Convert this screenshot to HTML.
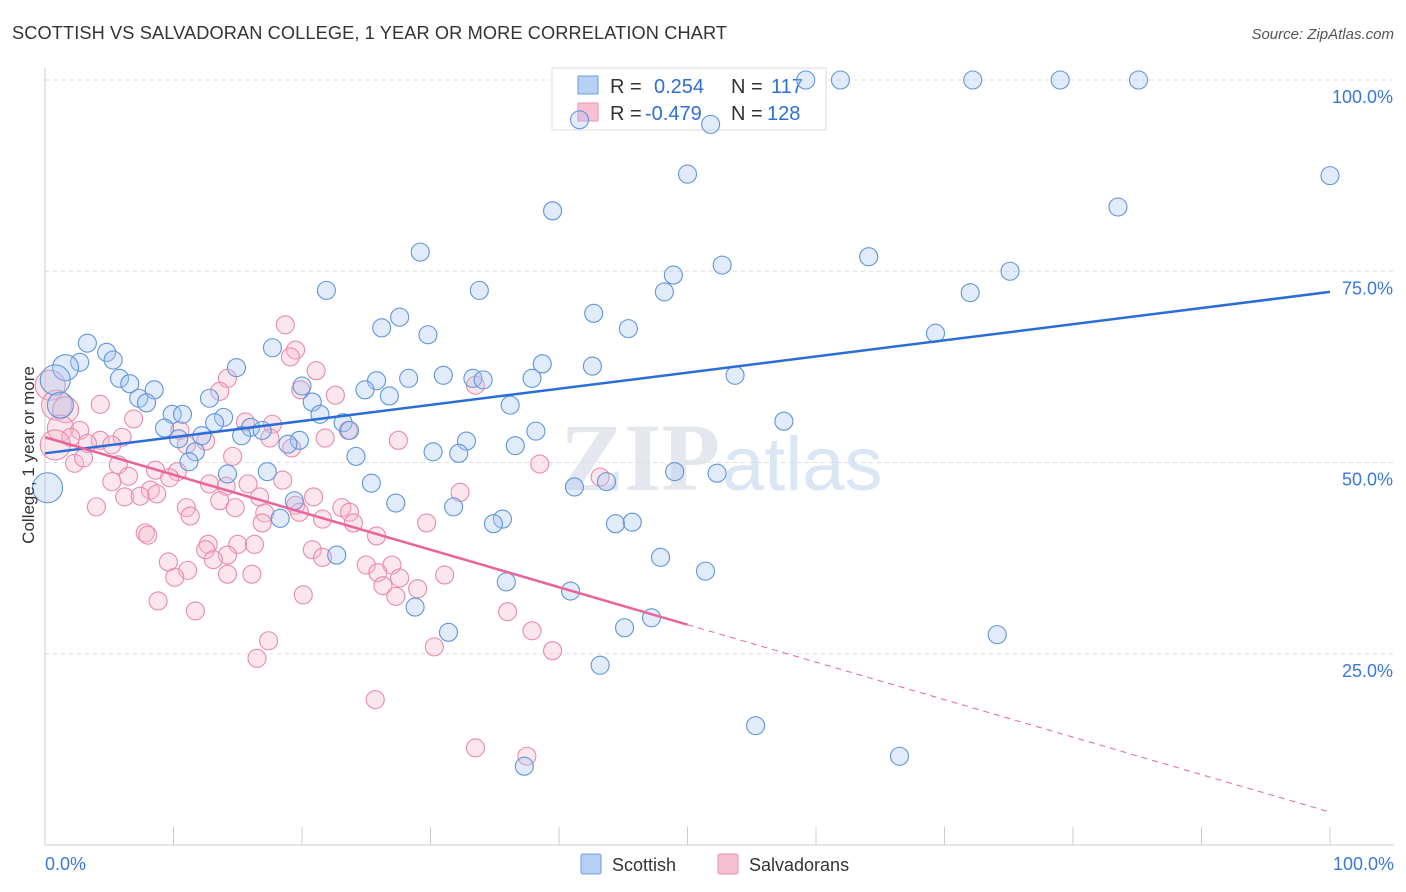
<!DOCTYPE html>
<html><head><meta charset="utf-8"><style>
body{margin:0;background:#fff;font-family:"Liberation Sans",sans-serif;}
#wrap{position:relative;width:1406px;height:892px;overflow:hidden}
</style></head><body>
<div id="wrap">
<svg id="svg" width="1406" height="892" xmlns="http://www.w3.org/2000/svg">
<text x="12" y="39" font-size="18.2" fill="#333" textLength="715">SCOTTISH VS SALVADORAN COLLEGE, 1 YEAR OR MORE CORRELATION CHART</text>
<text x="1394" y="39" font-size="15" fill="#555" font-style="italic" text-anchor="end">Source: ZipAtlas.com</text>
<text x="720" y="490" font-size="96" fill="#e4e8ee" text-anchor="end" font-weight="bold" font-family="Liberation Serif,serif">ZIP</text>
<text x="722" y="490" font-size="76" fill="#dbe6f4">atlas</text>
<g id="grid"></g>
<g>
<rect x="552" y="68" width="274" height="62" fill="#fff" stroke="#ddd"/>
<rect x="578" y="76" width="20" height="18" fill="#b8d0f4" stroke="#6a9ee0"/>
<rect x="578" y="103" width="20" height="18" fill="#f8c0d2" stroke="#ec8fb0"/>
<text x="610" y="93" font-size="20" fill="#333">R = <tspan x="654" fill="#2f6fd0">0.254</tspan><tspan x="731">N = </tspan><tspan x="771" fill="#2f6fd0">117</tspan></text>
<text x="610" y="120" font-size="20" fill="#333">R = <tspan x="645" fill="#2f6fd0">-0.479</tspan><tspan x="731">N = </tspan><tspan x="767" fill="#2f6fd0">128</tspan></text>
</g>
<g id="pts"></g><g id="lines"></g>
<text transform="translate(34,455) rotate(-90)" font-size="17" fill="#333" text-anchor="middle">College, 1 year or more</text>
<g>
<rect x="581" y="854" width="20" height="20" fill="#b8d0f4" stroke="#6a9ee0" rx="2"/>
<text x="612" y="871" font-size="18" fill="#333">Scottish</text>
<rect x="718" y="854" width="20" height="20" fill="#f8c0d2" stroke="#ec8fb0" rx="2"/>
<text x="749" y="871" font-size="18" fill="#333">Salvadorans</text>
</g>
</svg></div>
<script>
const yTicks=[25,50,75,100];
const xTickLabels=["0.0%","100.0%"];
const blueX=[59.2,61.9,72.2,79,85.1,51.8,41.6,100,50,83.5,39.5,29.2,64.1,52.7,48.9,75.1,48.2,72,21.9,33.8,42.7,27.6,26.2,45.4,29.8,69.3,17.7,3.3,2.7,4.8,5.3,1.6,14.9,38.7,42.6,53.7,31,33.3,34.1,37.9,28.3,25.8,5.8,6.6,0.8,20,8.5,24.9,26.8,7.3,12.8,7.9,20.8,36.2,1.2,9.9,10.7,21.4,13.9,13.2,23.2,57.5,9.3,16,16.9,23.7,38.2,15.3,10.4,12.2,19.8,18.9,32.8,36.6,30.2,32.2,24.2,11.7,11.2,49,52.3,14.2,17.3,43.7,41.2,0.2,25.4,19.4,27.3,31.8,18.3,35.6,34.9,44.4,45.7,22.7,47.9,51.4,35.9,40.9,28.8,47.2,45.1,31.4,74.1,43.2,55.3,66.5,37.3];
const blueY=[100,100,100,100,100,94.2,94.8,87.5,87.7,83.4,82.9,77.5,76.9,75.8,74.5,75,72.3,72.2,72.5,72.5,69.5,69,67.6,67.5,66.7,66.9,65,65.6,63.1,64.4,63.4,62.4,62.4,62.9,62.6,61.4,61.4,61,60.8,61,61,60.7,61,60.3,60.8,60,59.5,59.5,58.7,58.4,58.4,57.8,57.9,57.5,57.5,56.3,56.3,56.3,55.9,55.2,55.2,55.4,54.5,54.6,54.2,54.2,54.1,53.5,53.1,53.5,52.9,52.4,52.8,52.2,51.4,51.2,50.8,51.4,50.1,48.8,48.6,48.5,48.8,47.5,46.8,46.7,47.3,45,44.7,44.2,42.7,42.6,42,42,42.2,37.9,37.6,35.8,34.4,33.2,31.1,29.7,28.4,27.8,27.5,23.5,15.6,11.6,10.3];
const pinkX=[18.7,19.5,19.1,21.1,14.2,0.4,19.9,22.6,13.6,4.3,0.9,1.6,6.9,15.6,17.7,1.2,2.7,23.6,10.5,2,6,4.3,3.3,5.2,27.5,21.8,17.5,12.5,11,19.2,14.6,2.3,3,5.7,38.5,8.6,10.3,9.7,43.2,6.5,5.2,15.8,12.8,18.5,14.1,8.2,32.3,6.2,7.4,8.7,16.7,20.9,13.6,19.5,4,11,14.8,23.1,23.7,17.1,19.8,11.3,21.6,29.7,16.9,24,25.8,7.8,8,12.7,15,16.3,12.5,20.8,21.6,14.2,13.1,9.6,25,27,25.9,11.1,10.1,14.2,16.1,31.1,27.6,26.3,29,27.3,20.1,8.8,11.7,36,37.9,17.4,30.3,39.5,16.5,25.7,33.5,37.5,33.5,0.8];
const pinkY=[68,64.7,63.8,62,61,60.1,59.5,58.8,59.3,57.6,57.5,56.9,55.7,55.3,55,54.5,54.2,54.2,54.2,53.3,53.3,52.9,52.5,52.3,52.9,53.2,53.2,52.8,52.3,51.9,50.8,49.9,50.6,49.7,49.8,49,48.8,48,48.1,48.2,47.5,47.2,47.2,47.7,46.9,46.4,46.1,45.5,45.6,45.9,45.5,45.5,45,44.4,44.2,44.1,44.1,44.1,43.5,43.4,43.5,43,42.6,42.1,42.1,42.1,40.4,40.8,40.5,39.3,39.3,39.3,38.6,38.6,37.6,37.9,37.3,37,36.6,36.6,35.6,35.9,35,35.4,35.4,35.3,34.9,33.9,33.5,32.5,32.7,31.9,30.6,30.5,28,26.7,25.9,25.4,24.4,19,12.7,11.6,60.1,52.3];
const blueTrend=[51.2,72.3];
const pinkTrend=[53.3,4.3];
const pinkSolidEnd=50;
const X=v=>45+v*12.85, Y=v=>845-v*7.65;
const NS="http://www.w3.org/2000/svg";
function mk(tag,attrs,parent){const e=document.createElementNS(NS,tag);for(const k in attrs)e.setAttribute(k,attrs[k]);document.getElementById(parent).appendChild(e);return e;}
yTicks.forEach(t=>{
 const l=mk('line',{x1:45,x2:1394,y1:Y(t),y2:Y(t),stroke:'#ddd','stroke-dasharray':'4,4'},'grid');
 
 
 const tx=mk('text',{x:1393,y:Y(t)+23,'font-size':18,fill:'#3a78d8','text-anchor':'end'},'grid');
 tx.textContent=t.toFixed(1)+'%';
 
 
});
const ax=mk('line',{x1:45,x2:1394,y1:845,y2:845,stroke:'#ccc'},'grid');


const ay=mk('line',{x1:45,x2:45,y1:68,y2:845,stroke:'#ccc'},'grid');


for(let i=0;i<=10;i++){const t=mk('line',{x1:X(i*10),x2:X(i*10),y1:827,y2:845,stroke:'#ccc'},'grid');
 
 }
[[0,'start',45],[100,'end',1394]].forEach((a,i)=>{const t=mk('text',{x:a[2],y:870,'font-size':18,fill:'#3a78d8','text-anchor':a[1]},'grid');t.textContent=xTickLabels[i];
 
 });
function pts(xs,ys,fill,stroke,name){xs.forEach((x,i)=>{const r=x<2?(x<1?15:13):9;
 const c=mk('circle',{cx:X(x),cy:Y(ys[i]),r:r,fill:fill,'fill-opacity':0.35,stroke:stroke,'stroke-width':1.1},'pts');
 
 });}
pts(pinkX,pinkY,'#f7b8cc','#e98aab','salvadoran-point');
pts(blueX,blueY,'#a9c6f1','#5f95dd','scottish-point');
const bl=mk('line',{x1:X(0),y1:Y(blueTrend[0]),x2:X(100),y2:Y(blueTrend[1]),stroke:'#2a6dd6','stroke-width':2.5},'lines');


const pm=pinkTrend[0]+(pinkTrend[1]-pinkTrend[0])*pinkSolidEnd/100;
const pl=mk('line',{x1:X(0),y1:Y(pinkTrend[0]),x2:X(pinkSolidEnd),y2:Y(pm),stroke:'#e8649a','stroke-width':2.5},'lines');


const pd=mk('line',{x1:X(pinkSolidEnd),y1:Y(pm),x2:X(100),y2:Y(pinkTrend[1]),stroke:'#e8649a','stroke-width':1,'stroke-dasharray':'6,5'},'lines');


</script>
</body></html>
